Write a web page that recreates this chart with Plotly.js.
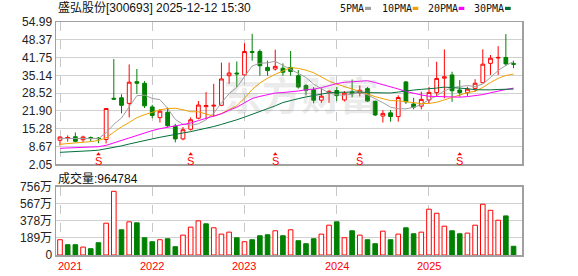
<!DOCTYPE html>
<html>
<head>
<meta charset="utf-8">
<script src="https://cdn.plot.ly/plotly-3.0.1.min.js"></script>
<style>
html,body{margin:0;padding:0;background:#fff;}
#chart{width:578px;height:276px;}
</style>
</head>
<body>
<div id="chart"></div>
<script>
// ---- data (monthly K-line, 2021-01 .. 2025-12) ----
const stockTitle = '盛弘股份[300693] 2025-12-12 15:30';
const volumeHeader = '成交量:964784';
const watermark = '东方财富';
const months = [];
for (let y = 2021; y <= 2025; y++) for (let m = 1; m <= 12; m++) months.push(y + '-' + String(m).padStart(2, '0'));

const open = [11.0,11.8,12.3,11.2,12.0,11.8,11.3,26.6,26.8,24.7,
32.8,32.2,23.4,19.4,21.4,16.2,11.5,15.1,19.2,23.5,
23.7,24.0,35.0,36.0,35.3,44.0,44.0,38.1,37.5,37.8,
38.1,35.0,31.4,29.8,25.9,28.6,29.5,26.0,29.0,28.6,
30.2,25.5,20.0,21.2,19.8,32.7,24.5,23.7,26.0,28.7,
34.1,35.3,29.7,28.7,30.3,32.4,39.6,41.6,41.8,39.5];
const high = [12.4,12.8,13.9,12.7,12.4,12.2,23.0,41.2,28.1,39.2,
37.5,33.0,24.2,22.6,23.2,17.1,15.9,19.5,25.6,28.9,
32.0,39.9,39.9,40.3,47.1,50.6,44.8,40.6,44.7,39.6,
44.2,37.1,31.8,30.8,30.2,29.6,30.8,29.3,33.6,31.4,
30.8,25.7,22.2,22.2,27.7,33.0,26.8,29.1,30.9,40.2,
44.8,36.5,33.4,30.9,33.7,44.8,42.7,46.0,50.5,40.6];
const low = [9.0,10.5,10.3,10.3,10.6,9.9,9.8,26.0,21.0,19.5,
28.2,23.0,19.2,17.6,15.9,10.2,11.0,14.6,18.8,18.8,
19.8,23.7,32.0,30.8,35.0,40.6,35.0,35.0,36.9,35.0,
35.0,30.2,27.7,24.7,24.9,24.9,25.6,25.4,27.0,27.3,
25.3,20.0,17.6,17.9,17.9,24.5,22.5,22.5,24.7,27.2,
26.6,25.3,27.2,27.5,29.1,32.2,35.3,35.3,38.6,37.8];
const close = [12.2,12.0,10.6,12.2,11.7,11.6,22.8,26.3,24.0,32.6,
32.2,23.8,20.2,21.8,16.4,11.5,14.9,18.6,24.1,23.9,
24.0,33.8,36.0,35.7,44.0,43.7,38.7,36.9,38.5,36.3,
36.6,30.8,29.6,25.9,27.4,29.2,27.6,28.5,28.3,29.6,
25.6,20.4,21.0,19.8,26.9,25.3,23.3,26.2,28.8,34.0,
34.6,29.4,28.7,30.0,32.2,39.3,41.5,41.8,39.4,39.3];
// volume in 万 (10k)
const volume = [169,114,114,88,70,136,352,705,279,367,
356,191,147,169,180,92,220,308,378,345,
301,231,253,191,147,169,213,224,268,213,
279,158,125,180,231,330,367,191,268,220,
169,125,264,169,231,301,235,253,507,462,
319,268,235,242,330,562,495,385,433,96.48];

const ma5 = [11.7,11.7,11.6,11.6,11.74,11.62,13.78,16.92,19.28,23.46,
27.58,27.78,26.56,26.12,22.88,18.74,16.96,16.64,17.1,18.6,
21.1,24.88,28.36,30.68,34.7,38.64,39.62,39.8,40.36,38.82,
37.4,35.82,34.36,31.84,30.06,28.58,27.94,27.72,28.2,28.64,
27.92,26.48,24.98,23.28,22.74,22.68,23.26,24.3,26.1,27.52,
29.38,30.6,31.1,31.34,30.98,31.92,34.34,36.96,38.84,40.26];
const ma10 = [9.5,9.7,9.9,10.2,10.5,10.9,11.9,14.0,16.0,17.6,
19.4,20.5,21.4,22.3,22.8,22.9,22.37,21.6,21.61,20.74,
19.92,20.92,22.5,23.89,26.65,29.87,32.25,34.08,35.52,36.76,
38.02,37.72,37.08,36.1,34.44,32.99,31.88,31.04,30.02,29.35,
28.25,27.21,26.35,25.74,25.69,25.3,24.87,24.64,24.69,25.13,
26.03,26.93,27.7,28.72,29.25,30.65,32.47,34.03,35.09,35.62];
const ma20 = [8.0,8.1,8.2,8.3,8.4,8.6,9.1,10.0,10.9,11.9,
12.9,13.8,14.6,15.3,15.8,16.3,16.7,17.4,18.3,19.17,
19.76,20.85,22.12,23.3,24.91,26.52,27.31,27.84,28.57,28.75,
28.97,29.32,29.79,30.0,30.55,31.43,32.07,32.56,32.77,33.06,
33.14,32.47,31.72,30.92,30.07,29.15,28.38,27.84,27.36,27.24,
27.14,27.07,27.03,27.23,27.47,27.98,28.67,29.34,29.89,30.38];
const ma30 = [6.5,6.6,6.8,6.9,7.1,7.3,7.8,8.3,8.9,9.6,
10.3,10.9,11.5,12.1,12.7,13.2,13.7,14.2,14.8,15.4,
16.1,16.9,17.7,18.6,19.6,20.6,21.6,22.6,23.8,25.03,
25.85,26.47,27.11,27.56,28.09,28.67,28.83,28.91,29.05,28.95,
28.73,28.62,28.64,28.58,28.93,29.39,29.67,29.92,30.08,30.41,
30.77,30.62,30.38,30.19,29.79,29.65,29.74,29.9,29.93,30.03];

const maNames = ['5PMA','10PMA','20PMA','30PMA'];
const dividendMonths = ['2021-06','2022-06','2023-05','2024-04','2025-05'];
const yearLabels = ['2021','2022','2023','2024','2025'];
const priceTicks = [2.05,8.67,15.28,21.90,28.52,35.14,41.75,48.37,54.99];
const priceTickText = ['2.05','8.67','15.28','21.90','28.52','35.14','41.75','48.37','54.99'];
const volTicks = [0,189,378,567,756];
const volTickText = ['0','189万','378万','567万','756万'];

// ---- styling / layout ----
const W = 578, H = 276;
const L = 56, R = 522, T = 22, B = 255;
const PRICE_BOTTOM = 164.3, VOL_TOP = 186.7;
const px = x => (x - L) / (R - L);
const py = y => (B - y) / (B - T);
const RED = '#ff0000', GREEN = '#008000';
const maColors = ['#a0a0a0', '#f0a000', '#ff00ff', '#00703a'];
const FONT = 'Liberation Sans, Arial, Noto Sans CJK SC, sans-serif';

const xs = months.map((m, i) => i);
const yearIdx = yearLabels.map(y => months.indexOf(y + '-01'));
const divIdx = dividendMonths.map(m => months.indexOf(m));
const pMin = priceTicks[0], pMax = priceTicks[priceTicks.length - 1];
// price value at a given pixel row of the price panel (for the small dividend arrows)
const priceAtPx = y => pMin + (PRICE_BOTTOM - y) / (PRICE_BOTTOM - T) * (pMax - pMin);

const up = close.map((c, i) => i === 0 || c >= close[i - 1]);

const traces = [];
traces.push({
  type: 'bar', x: xs, y: volume, xaxis: 'x2', yaxis: 'y2', width: 0.6,
  marker: { color: up.map(u => u ? '#ffffff' : GREEN), line: { color: up.map(u => u ? RED : GREEN), width: 1 } },
  hoverinfo: 'skip'
});
traces.push({
  type: 'candlestick', x: xs, open: open, high: high, low: low, close: close,
  xaxis: 'x', yaxis: 'y', whiskerwidth: 0,
  increasing: { line: { color: RED, width: 1 }, fillcolor: '#ffffff' },
  decreasing: { line: { color: GREEN, width: 1 }, fillcolor: GREEN },
  hoverinfo: 'skip'
});
[ma5, ma10, ma20, ma30].forEach((arr, k) => {
  traces.push({ type: 'scatter', mode: 'lines', x: xs, y: arr, xaxis: 'x', yaxis: 'y',
    line: { color: maColors[k], width: 1 }, hoverinfo: 'skip' });
});
// dividend arrows
traces.push({ type: 'scatter', mode: 'markers', x: divIdx, y: divIdx.map(() => priceAtPx(154.3)),
  xaxis: 'x', yaxis: 'y', marker: { symbol: 'triangle-up', size: 4, color: RED, line: { width: 0 } },
  hoverinfo: 'skip', cliponaxis: false });

const annotations = [];
const shapes = [];
annotations.push({ xref: 'paper', yref: 'paper', x: px(301), y: py(93), xanchor: 'center', yanchor: 'middle',
  text: watermark, showarrow: false,
  font: { family: 'Noto Sans CJK SC', size: 39, color: 'rgba(150,150,150,0.2)', weight: 'bold' } });
annotations.push({ xref: 'paper', yref: 'paper', x: px(56), y: py(8), xanchor: 'left', yanchor: 'middle',
  text: stockTitle, showarrow: false, font: { family: FONT, size: 12, color: '#111' } });
annotations.push({ xref: 'paper', yref: 'paper', x: px(56), y: py(178), xanchor: 'left', yanchor: 'middle',
  text: volumeHeader, showarrow: false, font: { family: FONT, size: 12, color: '#111' } });
const legTextX = [338, 380, 426, 471.5];
const legDash = [[365, 371], [412.7, 418.3], [458.7, 464.3], [505, 510.7]];
maNames.forEach((n, k) => {
  annotations.push({ xref: 'paper', yref: 'paper', x: px(legTextX[k]), y: py(8.5), xanchor: 'left', yanchor: 'middle',
    text: n, showarrow: false, font: { family: 'DejaVu Sans Mono, monospace', size: 10, color: '#111' } });
  shapes.push({ type: 'rect', xref: 'paper', yref: 'paper', x0: px(legDash[k][0]), x1: px(legDash[k][1]),
    y0: py(10), y1: py(6.8), fillcolor: maColors[k], line: { width: 0 } });
});
yearLabels.forEach((t, k) => {
  const first = k === 0;
  annotations.push({ xref: 'x2', yref: 'paper', x: first ? -0.52 : yearIdx[k], y: py(266), xanchor: first ? 'left' : 'center',
    yanchor: 'middle', text: t, showarrow: false, font: { family: FONT, size: 11, color: RED } });
});
divIdx.forEach(i => {
  annotations.push({ xref: 'x', yref: 'paper', x: i, y: py(160.6), yanchor: 'middle',
    text: 'S', showarrow: false, font: { family: FONT, size: 11, color: RED } });
});

const axisCommon = {
  range: [-0.52, 60.1], showline: true, mirror: true, linecolor: '#a0a0a0', linewidth: 1.5,
  zeroline: false, ticks: '', showticklabels: false,
  tickmode: 'array', tickvals: yearIdx, showgrid: true, gridcolor: '#c8c8c8', griddash: 'dash', gridwidth: 1,
  fixedrange: true
};
const yCommon = {
  showline: true, mirror: true, linecolor: '#a0a0a0', linewidth: 1.5, zeroline: false, ticks: '',
  showgrid: true, gridcolor: '#d0d0d0', gridwidth: 1, tickmode: 'array',
  tickfont: { family: FONT, size: 12, color: '#222' }, fixedrange: true
};

const layout = {
  width: W, height: H,
  margin: { l: L, r: W - R, t: T, b: H - B, pad: 0 },
  paper_bgcolor: '#ffffff', plot_bgcolor: '#ffffff',
  showlegend: false,
  xaxis: Object.assign({}, axisCommon, { anchor: 'y', domain: [0, 1], rangeslider: { visible: false } }),
  xaxis2: Object.assign({}, axisCommon, { anchor: 'y2', domain: [0, 1], matches: 'x' }),
  yaxis: Object.assign({}, yCommon, { domain: [py(PRICE_BOTTOM), 1], range: [pMin, pMax],
    tickvals: priceTicks, ticktext: priceTickText }),
  yaxis2: Object.assign({}, yCommon, { domain: [0, py(VOL_TOP)], range: [volTicks[0], volTicks[volTicks.length - 1]],
    tickvals: volTicks, ticktext: volTickText }),
  annotations: annotations,
  shapes: shapes
};

Plotly.newPlot('chart', traces, layout, { staticPlot: true, displayModeBar: false });
</script>
</body>
</html>
